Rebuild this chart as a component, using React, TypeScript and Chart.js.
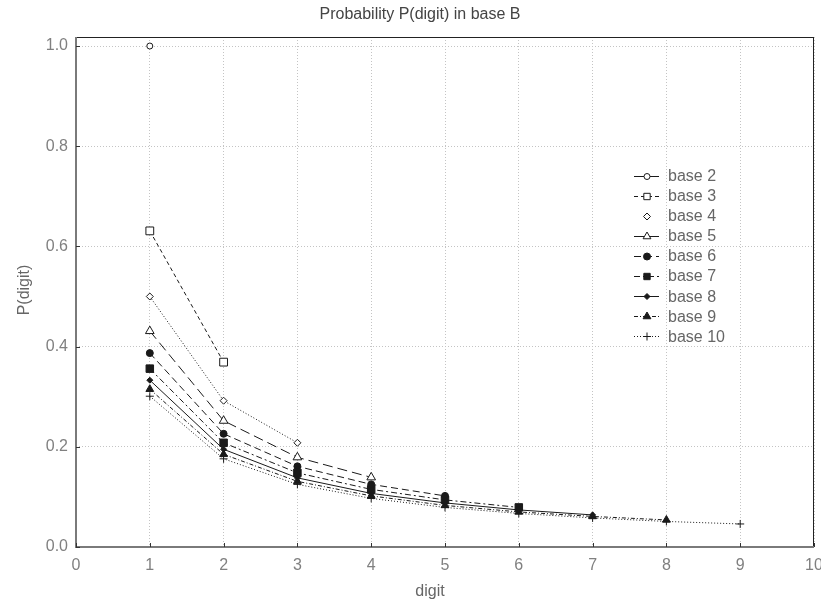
import React, { useEffect, useRef } from 'react';
import { Chart, registerables } from 'chart.js';

Chart.register(...registerables);

// ---- data ----
const digits = [1, 2, 3, 4, 5, 6, 7, 8, 9];
const seriesLabels = ['base 2', 'base 3', 'base 4', 'base 5', 'base 6', 'base 7', 'base 8', 'base 9', 'base 10'];
const base2 = [1.0];
const base3 = [0.631, 0.369];
const base4 = [0.5, 0.292, 0.208];
const base5 = [0.431, 0.252, 0.179, 0.139];
const base6 = [0.387, 0.226, 0.161, 0.125, 0.102];
const base7 = [0.356, 0.208, 0.148, 0.115, 0.094, 0.079];
const base8 = [0.333, 0.195, 0.138, 0.107, 0.088, 0.074, 0.064];
const base9 = [0.315, 0.185, 0.131, 0.102, 0.083, 0.07, 0.061, 0.054];
const base10 = [0.301, 0.176, 0.125, 0.097, 0.079, 0.067, 0.058, 0.051, 0.046];
const seriesValues = [base2, base3, base4, base5, base6, base7, base8, base9, base10];
const xTickValues = [0, 1, 2, 3, 4, 5, 6, 7, 8, 9, 10];
const yTickValues = [0, 0.2, 0.4, 0.6, 0.8, 1.0];

// ---- styles ----
const dashes: number[][] = [[], [4, 3], [1, 2], [10, 5], [7, 4], [6, 3, 2, 3], [], [4, 2, 1, 2], [1, 2]];
const markers = ['circle', 'rect', 'rectRot', 'triangle', 'circle', 'rect', 'rectRot', 'triangle', 'cross'];
const markerRadius = [3, 5.5, 3.5, 5, 3.5, 5.3, 3, 4.5, 4];
const markerFilled = [false, false, false, false, true, true, true, true, false];
const FONT = '"Liberation Sans", Arial, sans-serif';
const LINE = '#1a1a1a';
const TEXT = '#666666';

function drawMarker(ctx: CanvasRenderingContext2D, style: string, x: number, y: number, r: number, filled: boolean) {
  ctx.beginPath();
  if (style === 'circle') {
    ctx.arc(x, y, r, 0, Math.PI * 2);
  } else if (style === 'rect') {
    const s = r * Math.SQRT1_2;
    ctx.rect(x - s, y - s, 2 * s, 2 * s);
  } else if (style === 'rectRot') {
    ctx.moveTo(x, y - r);
    ctx.lineTo(x + r, y);
    ctx.lineTo(x, y + r);
    ctx.lineTo(x - r, y);
    ctx.closePath();
  } else if (style === 'triangle') {
    let a = 0;
    ctx.moveTo(x + Math.sin(a) * r, y - Math.cos(a) * r);
    a += (2 * Math.PI) / 3;
    ctx.lineTo(x + Math.sin(a) * r, y - Math.cos(a) * r);
    a += (2 * Math.PI) / 3;
    ctx.lineTo(x + Math.sin(a) * r, y - Math.cos(a) * r);
    ctx.closePath();
  } else if (style === 'cross') {
    ctx.moveTo(x, y - r);
    ctx.lineTo(x, y + r);
    ctx.moveTo(x - r, y);
    ctx.lineTo(x + r, y);
  }
  if (style !== 'cross') {
    ctx.fillStyle = filled ? LINE : '#ffffff';
    ctx.fill();
  }
  ctx.strokeStyle = LINE;
  ctx.lineWidth = 1;
  ctx.setLineDash([]);
  ctx.stroke();
}

const decor = {
  id: 'decor',
  afterDraw(chart: any) {
    const { ctx, chartArea: a, scales } = chart;
    const xs = scales.x;
    const ys = scales.y;
    ctx.save();
    // top & right thin borders
    ctx.setLineDash([]);
    ctx.strokeStyle = '#222';
    ctx.lineWidth = 1;
    ctx.beginPath();
    ctx.moveTo(a.left, a.top + 0.5);
    ctx.lineTo(a.right, a.top + 0.5);
    ctx.moveTo(a.right - 0.5, a.top);
    ctx.lineTo(a.right - 0.5, a.bottom);
    ctx.stroke();
    // left & bottom axes (grey, thicker)
    ctx.strokeStyle = '#7a7a7a';
    ctx.lineWidth = 2;
    ctx.beginPath();
    ctx.moveTo(a.left, a.top);
    ctx.lineTo(a.left, a.bottom);
    ctx.lineTo(a.right, a.bottom);
    ctx.stroke();
    // inner ticks
    ctx.strokeStyle = '#333';
    ctx.lineWidth = 1;
    ctx.beginPath();
    xTickValues.forEach((v) => {
      const px = Math.round(xs.getPixelForValue(v)) + 0.5;
      ctx.moveTo(px, a.bottom);
      ctx.lineTo(px, a.bottom - 4);
    });
    yTickValues.forEach((v) => {
      const py = Math.round(ys.getPixelForValue(v)) + 0.5;
      ctx.moveTo(a.left, py);
      ctx.lineTo(a.left + 4, py);
    });
    ctx.stroke();

    // legend
    const lx0 = 634;
    const lx1 = 659;
    const mx = 647;
    const tx = 668;
    const ty0 = 175.5;
    const dy = 20.1;
    ctx.font = '16px ' + FONT;
    ctx.textBaseline = 'middle';
    ctx.textAlign = 'left';
    seriesLabels.forEach((lab, i) => {
      const y = ty0 + i * dy;
      ctx.strokeStyle = LINE;
      ctx.lineWidth = 1;
      ctx.setLineDash(dashes[i]);
      if (i !== 2) {
        ctx.beginPath();
        ctx.moveTo(lx0, Math.round(y) + 0.5);
        ctx.lineTo(lx1, Math.round(y) + 0.5);
        ctx.stroke();
      }
      ctx.setLineDash([]);
      drawMarker(ctx, markers[i], mx, Math.round(y) + 0.5, Math.min(markerRadius[i], 4.5), markerFilled[i]);
      ctx.fillStyle = TEXT;
      ctx.fillText(lab, tx, y + 1);
    });

    // titles
    ctx.fillStyle = '#444';
    ctx.textAlign = 'center';
    ctx.font = '16px ' + FONT;
    ctx.fillText('Probability P(digit) in base B', 420, 15);
    ctx.fillStyle = TEXT;
    ctx.fillText('digit', 430, 592);
    ctx.save();
    ctx.translate(25, 290);
    ctx.rotate(-Math.PI / 2);
    ctx.fillText('P(digit)', 0, 0);
    ctx.restore();
    ctx.restore();
  },
};

export default function App() {
  const ref = useRef<HTMLCanvasElement | null>(null);
  useEffect(() => {
    document.body.style.margin = '0';
    const canvas = ref.current;
    if (!canvas) return;
    const datasets = seriesValues.map((vals, i) => ({
      label: seriesLabels[i],
      data: vals.map((v, j) => ({ x: digits[j], y: v })),
      borderColor: LINE,
      borderWidth: 1,
      borderDash: dashes[i],
      showLine: i !== 2 || true,
      pointStyle: markers[i] as any,
      pointRadius: markerRadius[i],
      pointBackgroundColor: markerFilled[i] ? LINE : '#ffffff',
      pointBorderColor: LINE,
      pointBorderWidth: 1,
      fill: false,
      tension: 0,
    }));
    const chart = new Chart(canvas, {
      type: 'line',
      data: { datasets },
      plugins: [decor],
      options: {
        responsive: false,
        animation: false,
        devicePixelRatio: 1,
        layout: { padding: { top: 37, right: 7, left: 0, bottom: 0 } },
        plugins: { legend: { display: false }, tooltip: { enabled: false }, title: { display: false } },
        scales: {
          x: {
            type: 'linear',
            min: 0,
            max: 10,
            afterFit: (s: any) => {
              s.height = 56;
              s.paddingLeft = 0;
              s.paddingRight = 0;
            },
            grid: { color: '#c4c4c4', lineWidth: 1, drawTicks: false, tickLength: 0 },
            border: { display: false, dash: [1, 2] },
            ticks: {
              stepSize: 1,
              autoSkip: false,
              maxRotation: 0,
              includeBounds: false,
              padding: 9,
              color: '#808080',
              font: { family: FONT, size: 16 },
              callback: (v: any) => String(v),
            },
          },
          y: {
            type: 'linear',
            min: 0,
            max: 1.018,
            afterFit: (s: any) => {
              s.width = 76;
              s.paddingTop = 0;
              s.paddingBottom = 0;
            },
            grid: { color: '#c4c4c4', lineWidth: 1, drawTicks: false, tickLength: 0 },
            border: { display: false, dash: [1, 2] },
            ticks: {
              stepSize: 0.2,
              includeBounds: false,
              padding: 8,
              color: '#808080',
              font: { family: FONT, size: 16 },
              callback: (v: any) => Number(v).toFixed(1),
            },
          },
        },
      },
    });
    return () => chart.destroy();
  }, []);
  return <canvas ref={ref} width={821} height={603} style={{ display: 'block' }} />;
}
